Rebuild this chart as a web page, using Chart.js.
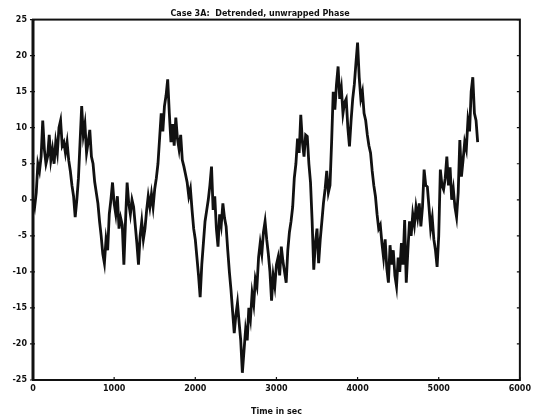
<!DOCTYPE html>
<html>
<head>
<meta charset="utf-8">
<script src="https://cdn.jsdelivr.net/npm/chart.js@4/dist/chart.umd.min.js"></script>
<style>
  html, body { margin: 0; padding: 0; background: #fff; }
</style>
</head>
<body>
<canvas id="phaseChart" width="535" height="417"></canvas>
<script>
// samples are 20 s apart
const sampleStep = 20;
const phaseValues = [
  0, -1, 1, 5, 4, 6, 11, 7, 5, 6,
  9, 5.5, 7, 5, 8, 6.5, 10, 11, 7.5, 8,
  6.5, 8, 5.5, 4, 2, 0.5, -2.4, 0, 3, 8,
  13, 9, 10.5, 6.5, 8, 9.7, 6, 5, 2.5, 1,
  -0.5, -3, -5, -7.5, -8.8, -5.5, -7, -2, 0, 2.4,
  -0.5, -2, 0.5, -4, -2.5, -3.5, -9, -3, 2.4, -0.5,
  -2, 0, -1, -3.5, -6, -9, -5, -3, -5.5, -4,
  -1.5, 0.5, -1, 0.8, -1, 1.5, 3, 5, 8.5, 12,
  9.5, 13, 14.5, 16.7, 12, 8, 10.5, 7.5, 11.4, 8.5,
  7, 9, 5.5, 4.6, 3.5, 2.4, 0.5, 1.5, -1.4, -4,
  -5.5, -8, -10.5, -13.5, -9, -6, -3, -1.5, 0, 2,
  4.6, -1.4, 0.5, -4, -6.5, -2, -3.5, -0.5, -2.5, -3.7,
  -7, -10, -12.5, -15.5, -18.5, -16, -14.3, -17, -19.5, -24,
  -21, -18, -19.5, -15, -16.5, -13, -14.5, -11, -12, -8,
  -6, -7.5, -4.5, -3, -5.5, -7.5, -10, -14, -10.5, -12,
  -9, -8, -10.5, -6.5, -8.5, -10, -11.5, -7, -4.5, -3,
  -1, 3, 5, 8.5, 6.5, 11.8, 8, 6, 9, 8.8,
  5, 2.4, -3, -9.7, -6, -4, -8.8, -5.5, -3, -0.4,
  1.5, 4, 1, 2, 8, 15, 12.5, 16, 18.5, 14,
  15.5, 12, 13.5, 14, 10, 7.4, 11, 14, 16, 19,
  21.8, 17, 14, 15, 12, 11, 9, 7.5, 6.5, 4,
  2, 0.5, -2, -4, -3.5, -6, -8, -5.5, -9.5, -11.5,
  -6.3, -9, -7, -10.5, -12, -8, -10, -6, -9, -2.8,
  -11.5, -7, -3, -5, -2, -3.5, -1, -2.5, -0.5, -3.7,
  -1, 4.2, 2, 1.8, -1, -4, -2.5, -5.5, -7, -9.3,
  -5, 4.2, 2, 1.4, 3, 6, 2, 4.5, 0, 1.5,
  -1, -2.4, 1, 8.3, 3.2, 5.5, 8, 7, 11, 9.5,
  15, 17, 12, 11, 8
];
const xTicks = [0, 1000, 2000, 3000, 4000, 5000, 6000];
const yTicks = [-25, -20, -15, -10, -5, 0, 5, 10, 15, 20, 25];

const chartTitle = 'Case 3A:  Detrended, unwrapped Phase';
const xTitle = 'Time in sec';

const inkColor = '#111';
const tickFont = { family: 'DejaVu Sans', size: 8, weight: 'bold' };

// box around the plot, with short tick marks on every side
const framePlugin = {
  id: 'frame',
  afterDatasetsDraw(chart) {
    const { ctx, chartArea: a, scales } = chart;
    ctx.save();
    ctx.strokeStyle = inkColor;
    ctx.lineWidth = 2;
    ctx.strokeRect(a.left, a.top, a.right - a.left, a.bottom - a.top);
    ctx.lineWidth = 3;
    ctx.beginPath();
    ctx.moveTo(a.left, a.top);
    ctx.lineTo(a.left, a.bottom);
    ctx.stroke();
    ctx.lineWidth = 1.2;
    ctx.beginPath();
    yTicks.forEach(v => {
      const y = scales.y.getPixelForValue(v);
      ctx.moveTo(a.left - 3, y); ctx.lineTo(a.left + 2, y);
      ctx.moveTo(a.right - 3, y); ctx.lineTo(a.right, y);
    });
    xTicks.forEach(v => {
      const x = scales.x.getPixelForValue(v);
      ctx.moveTo(x, a.bottom); ctx.lineTo(x, a.bottom - 3);
    });
    ctx.stroke();
    ctx.restore();
  }
};

const ctx = document.getElementById('phaseChart').getContext('2d');
new Chart(ctx, {
  type: 'line',
  data: {
    datasets: [{
      label: 'phase',
      data: phaseValues.map((v, i) => ({ x: i * sampleStep, y: v })),
      borderColor: inkColor,
      borderWidth: 2.8,
      pointRadius: 0,
      tension: 0,
      fill: false
    }]
  },
  options: {
    responsive: false,
    animation: false,
    layout: { padding: { left: 0, right: 15, top: 0, bottom: 0 } },
    plugins: {
      legend: { display: false },
      tooltip: { enabled: false },
      title: {
        display: true,
        text: chartTitle,
        color: inkColor,
        font: { family: 'DejaVu Sans', size: 8, weight: 'bold' },
        padding: { top: 9, bottom: 1 }
      }
    },
    scales: {
      x: {
        type: 'linear',
        min: 0,
        max: 6000,
        afterBuildTicks: scale => { scale.ticks = xTicks.map(v => ({ value: v })); },
        afterFit: scale => { scale.height = 37; },
        ticks: {
          color: inkColor, font: tickFont, padding: 4, maxRotation: 0,
          callback: v => String(v)
        },
        grid: { display: false, drawTicks: false },
        border: { display: false },
        title: {
          display: true,
          text: xTitle,
          color: inkColor,
          font: tickFont,
          padding: { top: 4, bottom: 0 }
        }
      },
      y: {
        min: -25,
        max: 25,
        afterBuildTicks: scale => { scale.ticks = yTicks.map(v => ({ value: v })); },
        afterFit: scale => { scale.width = 33; },
        ticks: { color: inkColor, font: tickFont, padding: 6, callback: v => String(v) },
        grid: { display: false, drawTicks: false },
        border: { display: false }
      }
    }
  },
  plugins: [framePlugin]
});
</script>
</body>
</html>
